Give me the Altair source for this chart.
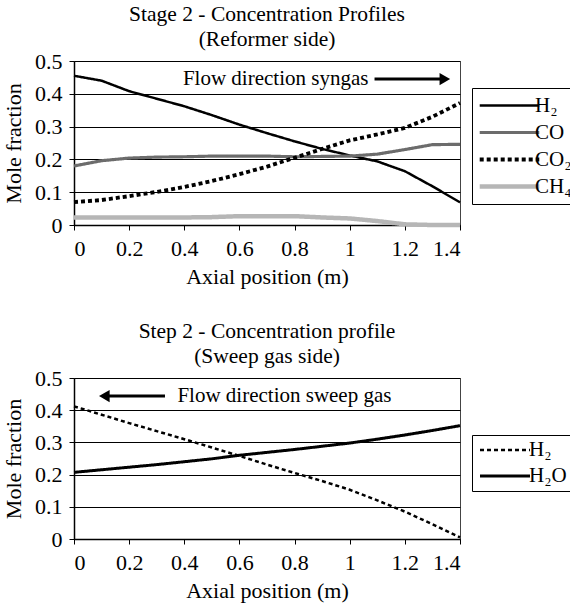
import altair as alt
import pandas as pd

# ---- data: reformer side ----
x_pos = [0.0, 0.1, 0.2, 0.3, 0.4, 0.5, 0.6, 0.7, 0.8, 0.9, 1.0, 1.1, 1.2, 1.3, 1.4]
h2_ref = [0.455, 0.440, 0.408, 0.385, 0.362, 0.335, 0.306, 0.280, 0.255, 0.232, 0.212, 0.194, 0.164, 0.118, 0.069]
co_ref = [0.180, 0.196, 0.204, 0.207, 0.208, 0.210, 0.210, 0.210, 0.208, 0.209, 0.210, 0.216, 0.230, 0.245, 0.246]
co2_ref = [0.070, 0.076, 0.088, 0.101, 0.116, 0.134, 0.155, 0.178, 0.205, 0.232, 0.258, 0.276, 0.296, 0.330, 0.372]
ch4_ref = [0.023, 0.023, 0.023, 0.023, 0.023, 0.024, 0.027, 0.027, 0.027, 0.023, 0.020, 0.012, 0.002, 0.000, 0.000]

# ---- data: sweep gas side ----
h2_sweep = [0.412, 0.386, 0.360, 0.335, 0.310, 0.284, 0.258, 0.231, 0.205, 0.180, 0.153, 0.120, 0.085, 0.046, 0.005]
h2o_sweep = [0.207, 0.215, 0.223, 0.231, 0.240, 0.249, 0.260, 0.269, 0.278, 0.288, 0.298, 0.310, 0.323, 0.337, 0.352]

ref_names = ["H₂", "CO", "CO₂", "CH₄"]
sweep_names = ["H₂ ", "H₂O"]

title_top = ["Stage 2 - Concentration Profiles", "(Reformer side)"]
title_bot = ["Step 2 - Concentration profile", "(Sweep gas side)"]
note_top = ["Flow direction syngas"]
note_bot = ["Flow direction sweep gas"]

x_ticks = [0, 0.2, 0.4, 0.6, 0.8, 1.0, 1.2, 1.4]
y_ticks = [0, 0.1, 0.2, 0.3, 0.4, 0.5]

FONT = "Liberation Serif"
FS = 22
LFS = 21

ref_df = pd.DataFrame(
    [(x, v, n) for n, vals in zip(ref_names, [h2_ref, co_ref, co2_ref, ch4_ref]) for x, v in zip(x_pos, vals)],
    columns=["x", "y", "series"],
)
sweep_df = pd.DataFrame(
    [(x, v, n) for n, vals in zip(sweep_names, [h2_sweep, h2o_sweep]) for x, v in zip(x_pos, vals)],
    columns=["x", "y", "series"],
)

W, H1, H2 = 386, 164, 161

x_scale = alt.Scale(domain=[0, 1.4], nice=False, zero=False)
y_scale = alt.Scale(domain=[0, 0.5], nice=False)
x_axis = alt.Axis(values=x_ticks, format="~g", title="Axial position (m)", grid=False, labelOverlap=False)
y_axis = alt.Axis(values=y_ticks, format="~g", title="Mole fraction", grid=True, labelOverlap=False)


def X(field="x"):
    return alt.X(f"{field}:Q", scale=x_scale, axis=x_axis)


def Y(field="y"):
    return alt.Y(f"{field}:Q", scale=y_scale, axis=y_axis)


def legend(ly, pad, row_pad, sym_off, lab_off, sym_size):
    return alt.Legend(title=None, orient="none", legendX=W + 12, legendY=ly,
                      symbolType="M-5,0H5", symbolSize=sym_size, symbolOffset=sym_off, labelOffset=lab_off,
                      strokeColor="black", fillColor="white", padding=pad, rowPadding=row_pad,
                      labelFont=FONT, labelFontSize=LFS, labelColor="black", labelLimit=0)


def lines(df, names, colors, widths, dashes, lg):
    return alt.Chart(df).mark_line().encode(
        x=X(), y=Y(),
        color=alt.Color("series:N", scale=alt.Scale(domain=names, range=colors), legend=lg),
        strokeWidth=alt.StrokeWidth("series:N", scale=alt.Scale(domain=names, range=widths), legend=lg),
        strokeDash=alt.StrokeDash("series:N", scale=alt.Scale(domain=names, range=dashes), legend=lg),
    )


def arrow(x0, x1, xhead, yv, shape):
    d = pd.DataFrame({"x": [x0], "x2": [x1], "y": [yv]})
    dh = pd.DataFrame({"x": [xhead], "y": [yv]})
    r = alt.Chart(d).mark_rule(color="black", strokeWidth=3).encode(x=X(), x2="x2:Q", y=Y())
    h = alt.Chart(dh).mark_point(shape=shape, filled=True, color="black", opacity=1, size=150,
                                 strokeWidth=0).encode(x=X(), y=Y())
    return r + h


def note(xv, yv, text):
    d = pd.DataFrame({"x": [xv], "y": [yv], "t": text})
    return alt.Chart(d).mark_text(font=FONT, fontSize=21, align="left", baseline="middle", color="black").encode(
        x=X(), y=Y(), text="t:N")


lg_top = legend(27, 7, 5, 20, 15, 142)
top_lines = lines(ref_df, ref_names, ["black", "#6c6c6c", "black", "#b6b6b6"], [2.5, 4.5, 2.5, 4.5],
                  [[1, 0], [1, 0], [4, 3], [1, 0]], lg_top)
top = alt.layer(
    top_lines,
    note(0.395, 0.445, note_top),
    arrow(1.09, 1.33, 1.345, 0.445, "triangle-right"),
).properties(width=W, height=H1,
             title=alt.TitleParams(title_top, font=FONT, fontSize=21.5, fontWeight="normal", lineHeight=25, offset=0))

lg_bot = legend(57, 4.5, 4, 18, 13.5, 100)
bot_lines = lines(sweep_df, sweep_names, ["black", "black"], [2.5, 3], [[4, 3], [1, 0]], lg_bot)
bot = alt.layer(
    bot_lines,
    note(0.375, 0.444, note_bot),
    arrow(0.125, 0.33, 0.11, 0.444, "triangle-left"),
).properties(width=W, height=H2,
             title=alt.TitleParams(title_bot, font=FONT, fontSize=21.5, fontWeight="normal", lineHeight=25, offset=0))

chart = alt.vconcat(top, bot, spacing=32).resolve_scale(
    color="independent", strokeWidth="independent", strokeDash="independent"
).properties(padding={"left": 2, "top": 3, "right": -10, "bottom": 1}).configure_view(
    stroke="#444444", strokeWidth=1
).configure_axis(
    labelFont=FONT, labelFontSize=FS, labelColor="black",
    titleFont=FONT, titleFontSize=FS, titleFontWeight="normal", titleColor="black",
    domainColor="black", domainWidth=1.5, tickColor="black", tickSize=5,
    gridColor="black", gridWidth=1, gridOpacity=1,
).configure_axisY(titlePadding=9, labelPadding=7).configure_axisX(titlePadding=7, labelPadding=8
).configure_title(anchor="middle", color="black")

chart.save("out.html", embed_options={"renderer": "svg", "actions": False})
